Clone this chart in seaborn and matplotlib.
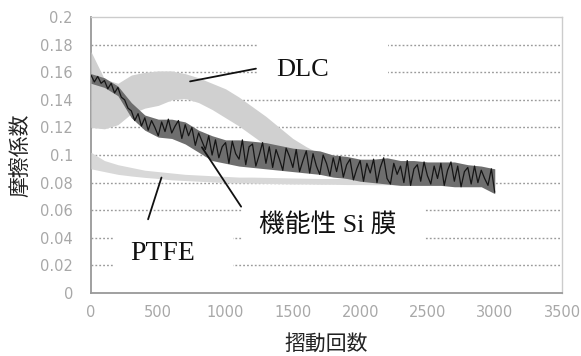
import numpy as np
import pandas as pd
import matplotlib
matplotlib.use("Agg")
import matplotlib.pyplot as plt
from matplotlib.patches import Rectangle
import seaborn as sns

# ── Data ────────────────────────────────────────────────────────────────────
cycles_band = list(range(0, 3001, 100))

dlc_upper = [0.175, 0.155, 0.152, 0.158, 0.160, 0.161, 0.161, 0.159, 0.156, 0.152,
             0.148, 0.142, 0.135, 0.128, 0.120, 0.112, 0.106, 0.101, 0.098, 0.096,
             0.095, 0.094, 0.094, 0.093, 0.093, 0.093, 0.092, 0.092, 0.091, 0.091,
             0.090]
dlc_lower = [0.120, 0.119, 0.122, 0.130, 0.134, 0.136, 0.140, 0.141, 0.138, 0.133,
             0.127, 0.121, 0.114, 0.107, 0.101, 0.096, 0.092, 0.089, 0.087, 0.086,
             0.085, 0.085, 0.084, 0.084, 0.084, 0.083, 0.083, 0.083, 0.082, 0.082,
             0.082]

ptfe_upper = [0.102, 0.096, 0.093, 0.091, 0.089, 0.088, 0.087, 0.086, 0.0855, 0.085,
              0.0845, 0.084, 0.084, 0.0838, 0.0836, 0.0834, 0.0832, 0.083, 0.083, 0.083,
              0.0828, 0.0828, 0.0826, 0.0826, 0.0825, 0.0825, 0.0824, 0.0824, 0.0823, 0.0823,
              0.0822]
ptfe_lower = [0.090, 0.088, 0.086, 0.0848, 0.0838, 0.083, 0.082, 0.0815, 0.081, 0.0805,
              0.080, 0.0798, 0.0796, 0.0794, 0.0792, 0.079, 0.079, 0.0788, 0.0788, 0.0786,
              0.0786, 0.0785, 0.0785, 0.0784, 0.0784, 0.0783, 0.0783, 0.0782, 0.0782, 0.0781,
              0.078]

# envelope of the Si film trace
si_upper = [0.159, 0.156, 0.150, 0.138, 0.129, 0.126, 0.126, 0.124, 0.118, 0.114,
            0.111, 0.111, 0.110, 0.109, 0.107, 0.105, 0.104, 0.103, 0.100, 0.099,
            0.097, 0.097, 0.098, 0.096, 0.096, 0.095, 0.095, 0.095, 0.093, 0.092,
            0.090]
si_lower = [0.152, 0.149, 0.143, 0.127, 0.118, 0.113, 0.112, 0.108, 0.102, 0.096,
            0.094, 0.092, 0.091, 0.090, 0.089, 0.088, 0.087, 0.086, 0.084, 0.083,
            0.081, 0.080, 0.079, 0.078, 0.078, 0.078, 0.078, 0.077, 0.077, 0.077,
            0.072]

cycles_si = list(range(0, 3001, 25))
si_film = [0.158, 0.153, 0.157, 0.152, 0.154,
           0.148, 0.152, 0.145, 0.149,
           0.142, 0.140, 0.134, 0.132,
           0.125, 0.130, 0.121, 0.127,
           0.118, 0.125, 0.120, 0.114,
           0.124, 0.117, 0.126, 0.116,
           0.121, 0.125, 0.112, 0.122,
           0.114, 0.120, 0.107, 0.116,
           0.110, 0.104, 0.114, 0.100,
           0.111, 0.098, 0.106, 0.109,
           0.094, 0.110, 0.101, 0.097,
           0.111, 0.093, 0.106, 0.108,
           0.092, 0.100, 0.109, 0.094,
           0.106, 0.091, 0.104, 0.097,
           0.089, 0.105, 0.099, 0.091,
           0.104, 0.088, 0.096, 0.103,
           0.087, 0.101, 0.092, 0.086,
           0.100, 0.094, 0.085, 0.098,
           0.088, 0.099, 0.084, 0.093,
           0.097, 0.082, 0.090, 0.096,
           0.081, 0.094, 0.087, 0.097,
           0.080, 0.091, 0.098, 0.083,
           0.079, 0.094, 0.086, 0.092,
           0.080, 0.096, 0.078, 0.090,
           0.093, 0.081, 0.095, 0.085,
           0.079, 0.092, 0.083, 0.094,
           0.078, 0.089, 0.095, 0.081,
           0.092, 0.077, 0.088, 0.091,
           0.079, 0.092, 0.080, 0.089,
           0.083, 0.078, 0.090, 0.073]

x_ticks = [0, 500, 1000, 1500, 2000, 2500, 3000, 3500]
y_ticks = [0, 0.02, 0.04, 0.06, 0.08, 0.1, 0.12, 0.14, 0.16, 0.18, 0.2]
y_ticklabels = ["0", "0.02", "0.04", "0.06", "0.08", "0.1",
                "0.12", "0.14", "0.16", "0.18", "0.2"]

# ── Style ────────────────────────────────────────────────────────────────────
sns.set_theme(style="white")
plt.rcParams["font.family"] = ["DejaVu Sans", "Noto Sans CJK JP"]

GRID = "#9a9a9a"
TICK = "#a8a8a8"

fig = plt.figure(figsize=(5.81, 3.56), dpi=100)
ax = fig.add_axes([0.1566, 0.177, 0.8107, 0.775])

bands = pd.DataFrame({"cycles": cycles_band,
                      "dlc_lo": dlc_lower, "dlc_hi": dlc_upper,
                      "ptfe_lo": ptfe_lower, "ptfe_hi": ptfe_upper,
                      "si_lo": si_lower, "si_hi": si_upper})
si = pd.DataFrame({"cycles": cycles_si, "mu": si_film})

# gridlines
for yv in y_ticks[1:-1]:
    ax.axhline(yv, color=GRID, lw=1.0, ls=(0, (1.3, 1.5)), zorder=1)

# white masks behind the labels (grid broken there in the original)
for (x0, y0, w, h) in [(1239, 0.156, 970, 0.029),
                       (1127, 0.0335, 1351, 0.034),
                       (164, 0.013, 888, 0.034)]:
    ax.add_patch(Rectangle((x0, y0), w, h, facecolor="white",
                           edgecolor="none", zorder=2))

# series
ax.fill_between(bands["cycles"], bands["dlc_lo"], bands["dlc_hi"],
                color="#d0d0d0", lw=0, zorder=3)
ax.fill_between(bands["cycles"], bands["ptfe_lo"], bands["ptfe_hi"],
                color="#d8d8d8", lw=0, zorder=3)
ax.fill_between(bands["cycles"], bands["si_lo"], bands["si_hi"],
                color="#6e6e6e", lw=0, zorder=4)
sns.lineplot(data=si, x="cycles", y="mu", color="#151515", lw=0.9,
             estimator=None, ax=ax, zorder=5)

# labels with leader lines
serif_jp = ["Liberation Serif", "Noto Sans CJK JP"]
ax.text(1373, 0.162, "DLC", fontsize=19, family=serif_jp,
        va="center", ha="left", color="#111111", zorder=6)
ax.text(291, 0.0283, "PTFE", fontsize=20, family=serif_jp,
        va="center", ha="left", color="#111111", zorder=6)
ax.text(1246, 0.0493, "機能性 Si 膜", fontsize=18.5, family=serif_jp,
        va="center", ha="left", color="#111111", zorder=6)

line = dict(arrowstyle="-", color="#111111", lw=1.3)
ax.annotate("", xy=(716, 0.153), xytext=(1246, 0.163), arrowprops=line, zorder=6)
ax.annotate("", xy=(813, 0.1073), xytext=(1127, 0.0609), arrowprops=line, zorder=6)
ax.annotate("", xy=(530, 0.0856), xytext=(418, 0.0515), arrowprops=line, zorder=6)

# axes
ax.set_xlim(0, 3500)
ax.set_ylim(0, 0.2)
ax.set_xticks(x_ticks)
ax.set_yticks(y_ticks)
ax.set_yticklabels(y_ticklabels)
ax.tick_params(axis="x", direction="in", length=3, width=1, color=TICK,
               labelsize=10.5, labelcolor=TICK, pad=9)
ax.tick_params(axis="y", length=0, labelsize=10.5, labelcolor=TICK, pad=13)
for side in ["top", "right"]:
    ax.spines[side].set_color("#cccccc")
    ax.spines[side].set_linewidth(1.0)
for side in ["left", "bottom"]:
    ax.spines[side].set_color("#999999")
    ax.spines[side].set_linewidth(1.3)

ax.set_xlabel("摺動回数", fontsize=15, family=["Noto Sans CJK JP"],
              color="#222222", labelpad=9)
ax.set_ylabel("摩擦係数", fontsize=15, family=["Noto Sans CJK JP"],
              color="#222222", labelpad=6)

fig.savefig("out.png", dpi=100)
